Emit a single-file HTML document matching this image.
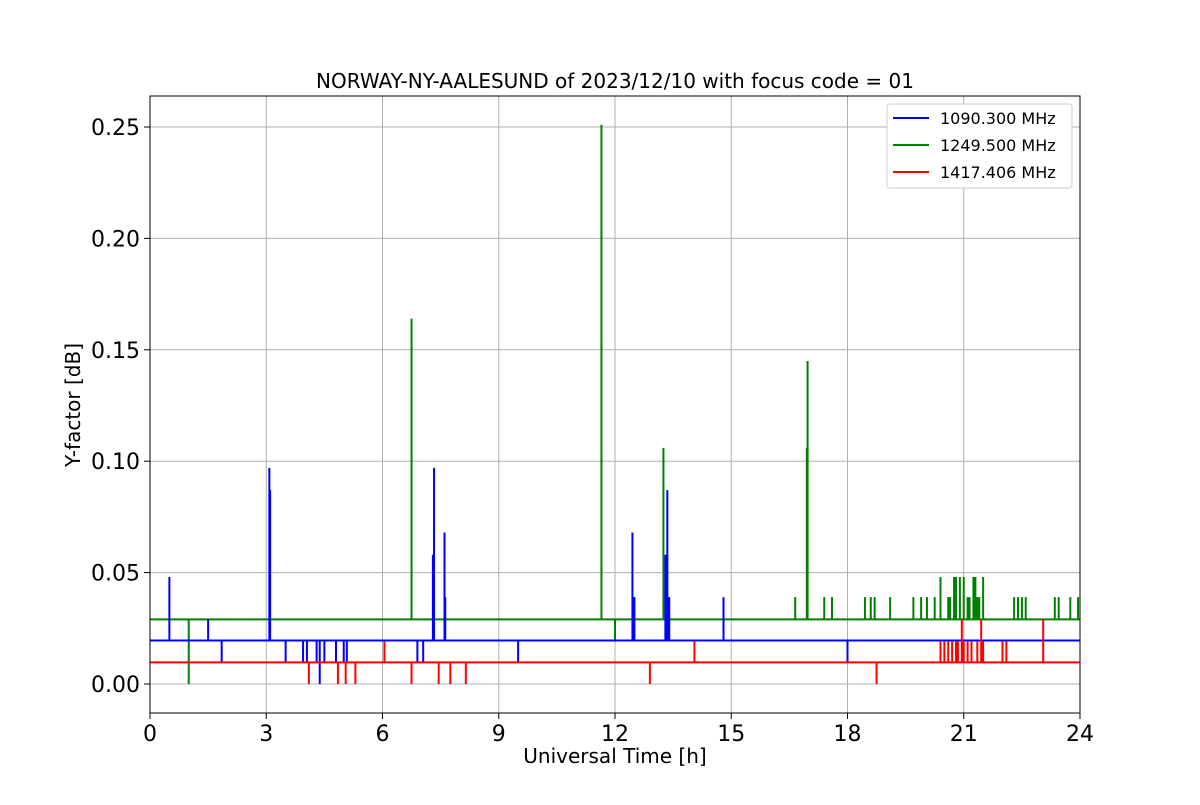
<!DOCTYPE html>
<html><head><meta charset="utf-8"><style>
body{margin:0;background:#fff;}
svg text{font-family:"DejaVu Sans","Liberation Sans",sans-serif;}
</style></head><body>
<svg id="chart" width="1200" height="800" xmlns="http://www.w3.org/2000/svg">
<rect width="1200" height="800" fill="#fff"/>
<g id="grid"></g>
<g id="series"></g>
<rect x="150" y="96" width="930" height="617" fill="none" stroke="#000" stroke-width="1"/>
<g id="ticks"></g>
<text x="615" y="88" font-size="20" text-anchor="middle">NORWAY-NY-AALESUND of 2023/12/10 with focus code = 01</text>
<text x="615" y="763" font-size="20" text-anchor="middle">Universal Time [h]</text>
<text x="80" y="405" font-size="20" text-anchor="middle" transform="rotate(-90 80 405)">Y-factor [dB]</text>
<g>
<rect x="887" y="104" width="185" height="84" fill="#fff" stroke="#ccc" rx="3"/>
<line x1="893" y1="118" x2="929" y2="118" stroke="#0000ff" stroke-width="2"/>
<text x="940" y="124" font-size="16">1090.300 MHz</text>
<line x1="893" y1="145" x2="929" y2="145" stroke="#008000" stroke-width="2"/>
<text x="940" y="151" font-size="16">1249.500 MHz</text>
<line x1="893" y1="172" x2="929" y2="172" stroke="#ff0000" stroke-width="2"/>
<text x="940" y="178" font-size="16">1417.406 MHz</text>
</g>
</svg>
<script>
const xTicks=[0,3,6,9,12,15,18,21,24];
const yTicks=[0,0.05,0.10,0.15,0.20,0.25];
const yTickLabels=["0.00","0.05","0.10","0.15","0.20","0.25"];
const blueBase=0.0195;
const blueTimes=[0.5,1.5,1.85,3.08,3.1,3.5,3.95,4.05,4.3,4.38,4.5,4.8,5.0,5.08,6.9,7.05,7.3,7.33,7.6,7.62,9.5,12.45,12.5,13.3,13.35,13.4,14.8,18.0];
const blueVals=[0.048,0.029,0.01,0.097,0.087,0.01,0.01,0.01,0.01,0,0.01,0.01,0.01,0.01,0.01,0.01,0.058,0.097,0.068,0.039,0.01,0.068,0.039,0.058,0.087,0.039,0.039,0.01];
const greenBase=0.029;
const greenTimes=[1.0,6.75,11.65,12.0,13.25,13.35,16.65,16.95,16.97,17.4,17.6,18.45,18.6,18.7,19.1,19.7,19.9,20.05,20.25,20.4,20.6,20.65,20.75,20.8,20.9,21.0,21.1,21.15,21.25,21.3,21.35,21.4,21.5,22.3,22.4,22.5,22.6,23.35,23.45,23.75,23.95];
const greenVals=[0,0.164,0.251,0.019,0.106,0.058,0.039,0.106,0.145,0.039,0.039,0.039,0.039,0.039,0.039,0.039,0.039,0.039,0.039,0.048,0.039,0.039,0.048,0.048,0.048,0.048,0.039,0.039,0.048,0.048,0.039,0.039,0.048,0.039,0.039,0.039,0.039,0.039,0.039,0.039,0.039];
const redBase=0.0097;
const redTimes=[4.1,4.85,5.05,5.3,6.05,6.75,7.45,7.75,8.15,12.9,14.05,18.75,20.4,20.5,20.6,20.7,20.8,20.85,20.95,21.0,21.1,21.2,21.35,21.45,21.5,22.0,22.1,23.05];
const redVals=[0,0,0,0,0.019,0,0,0,0,0,0.019,0,0.019,0.019,0.019,0.019,0.019,0.019,0.029,0.019,0.019,0.019,0.019,0.029,0.019,0.019,0.019,0.029];
const X0=150,X1=1080,Y0=684,YS=2228;
function xs(t){return X0+(X1-X0)*t/24;}
function ys(v){return Y0-v*YS;}
const NS="http://www.w3.org/2000/svg";
const grid=document.getElementById('grid'),ticks=document.getElementById('ticks'),ser=document.getElementById('series');
function mk(tag,attrs,parent){const e=document.createElementNS(NS,tag);for(const k in attrs)e.setAttribute(k,attrs[k]);parent.appendChild(e);return e;}
xTicks.forEach(t=>{
 const g=mk('line',{x1:xs(t),x2:xs(t),y1:96,y2:713,stroke:'#b0b0b0','stroke-width':1},grid);
 
 
 mk('line',{x1:xs(t),x2:xs(t),y1:713,y2:719,stroke:'#000'},ticks);
 const tx=mk('text',{x:xs(t),y:741,'font-size':22,'text-anchor':'middle'},ticks);
 tx.textContent=String(t);
 
 
});
yTicks.forEach((v,i)=>{
 const g=mk('line',{x1:150,x2:1080,y1:ys(v),y2:ys(v),stroke:'#b0b0b0','stroke-width':1},grid);
 
 
 mk('line',{x1:144,x2:150,y1:ys(v),y2:ys(v),stroke:'#000'},ticks);
 const tx=mk('text',{x:140,y:ys(v)+8,'font-size':22,'text-anchor':'end'},ticks);
 tx.textContent=yTickLabels[i];
 
 
});
function draw(base,times,vals,color,name){
 let d='M'+X0+' '+ys(base)+' H'+X1;
 times.forEach((t,i)=>{d+=' M'+xs(t)+' '+ys(base)+' V'+ys(vals[i]);});
 const p=mk('path',{d:d,stroke:color,'stroke-width':2,fill:'none'},ser);
 
 
}
draw(greenBase,greenTimes,greenVals,'#008000','series-1249-mhz');
draw(blueBase,blueTimes,blueVals,'#0000ff','series-1090-mhz');
draw(redBase,redTimes,redVals,'#ff0000','series-1417-mhz');
</script>
</body></html>
